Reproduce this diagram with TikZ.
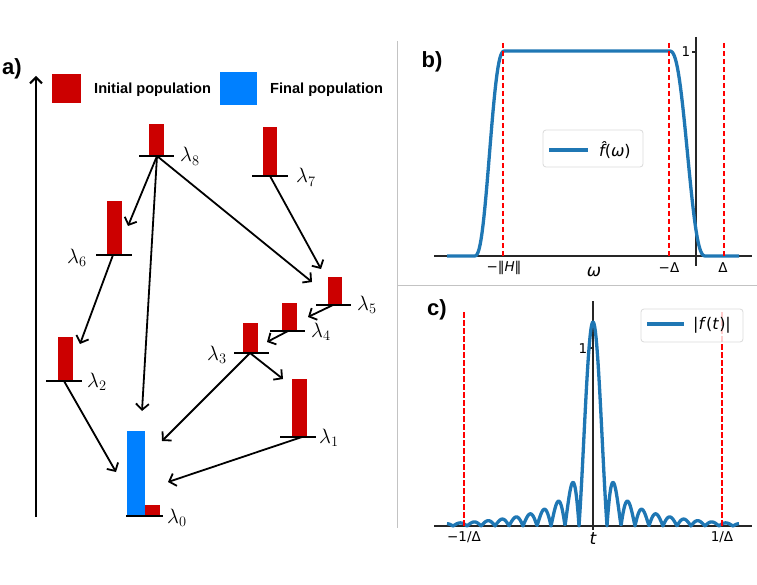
\documentclass[tikz,border=0pt]{standalone}
\usepackage{fontspec}
\newfontfamily\dvs{DejaVu Sans}
\newfontfamily\hel{Liberation Sans}
\usetikzlibrary{arrows.meta}
\definecolor{redbar}{RGB}{204,0,0}
\definecolor{bluebar}{RGB}{0,128,255}
\definecolor{mplblue}{RGB}{31,119,180}
\definecolor{panelgrey}{RGB}{195,195,195}
\definecolor{legendgrey}{RGB}{218,218,218}
\begin{document}
\begin{tikzpicture}[x=1pt,y=-1pt,
  levelline/.style={line width=2.2pt, black},
  redb/.style={fill=redbar, draw=none},
  blueb/.style={fill=bluebar, draw=none},
  trans/.style={line width=1.8pt, -{Straight Barb[length=6pt,width=13pt,line width=1.8pt]}},
  lab/.style={font=\fontsize{21.5}{25}\selectfont, inner sep=0pt, anchor=base west},
  panellabel/.style={font=\hel\bfseries\fontsize{22}{26}\selectfont, inner sep=0pt},
  legtext/.style={font=\hel\bfseries\fontsize{14.6}{17}\selectfont, inner sep=0pt, anchor=west},
  axisline/.style={line width=1.1pt, black!85},
  curve/.style={mplblue, line width=3.3pt, line join=round},
  vline/.style={red, line width=1.7pt, dash pattern=on 5.5pt off 2.5pt},
  ticklab/.style={font=\dvs\fontsize{13.5}{15}\selectfont, inner sep=0pt},
  axlab/.style={font=\dvs\itshape\fontsize{17}{19}\selectfont, inner sep=0pt},
  legendbox/.style={draw=legendgrey, fill=white, fill opacity=0.8, rounded corners=3pt, line width=0.8pt},
  mpltext/.style={font=\dvs\fontsize{16}{19}\selectfont, inner sep=0pt, anchor=west},
  declare function={
    clampu(\u)=min(max(\u,0),1);
    smst(\u)=\u*\u*\u*(\u*(6*\u-15)+10);
    fbw(\x)=smst(clampu((\x-474)/31))*smst(clampu((706-\x)/37));
    sincu(\u)=sin(180*\u)/(pi*\u);
    fct(\x)=1.146*abs(sincu((\x-593)/14))*exp(-((\x-593)/150)^2);
  }]
\useasboundingbox (0,0) rectangle (757,585);

% ---------------- panel a ----------------
\node[panellabel] (pa) at (12,69) {a)};
\coordinate (axbot) at (36,517);
\coordinate (axtop) at (36,76);
\draw[line width=2.2pt, -{Straight Barb[length=6pt,width=12pt,line width=2pt]}] (axbot) -- (axtop);

% legend
\fill[redbar] (52,74) rectangle (81,103);
\node[legtext] (lginit) at (94,90) {Initial population};
\fill[bluebar] (220,72) rectangle (257,105);
\node[legtext] (lgfinal) at (270,90) {Final population};

% bars
\fill[redb] (149,124) rectangle (164,156);
\fill[redb] (263,127) rectangle (277,176);
\fill[redb] (107,201) rectangle (122,255);
\fill[redb] (328,277) rectangle (342,305);
\fill[redb] (282,303) rectangle (297,331);
\fill[redb] (243,323) rectangle (258,353);
\fill[redb] (58,337) rectangle (73,381);
\fill[redb] (292,379) rectangle (307,437);
\fill[blueb] (127,431) rectangle (145,516);
\fill[redb] (145,505) rectangle (160,516);

% level lines
\draw[levelline] (139,156) -- (174,156);
\draw[levelline] (252,176) -- (288,176);
\draw[levelline] (96,255) -- (132,255);
\draw[levelline] (316,305) -- (351,305);
\draw[levelline] (270,331) -- (305,331);
\draw[levelline] (234,353) -- (269,353);
\draw[levelline] (46,381) -- (82,381);
\draw[levelline] (280,437) -- (316,437);
\draw[levelline] (126,516) -- (163,516);

% labels
\node[lab] (l8) at (180,162) {$\lambda_8$};
\node[lab] (l7) at (296,183) {$\lambda_7$};
\node[lab] (l6) at (67,263) {$\lambda_6$};
\node[lab] (l5) at (357,310) {$\lambda_5$};
\node[lab] (l4) at (311,337) {$\lambda_4$};
\node[lab] (l3) at (207,360) {$\lambda_3$};
\node[lab] (l2) at (87,387) {$\lambda_2$};
\node[lab] (l1) at (319,443) {$\lambda_1$};
\node[lab] (l0) at (167,523) {$\lambda_0$};

% level anchor points
\coordinate (c8) at (157,156);
\coordinate (c7) at (270,176);
\coordinate (c6) at (113,255);
\coordinate (c5) at (333,305);
\coordinate (c4) at (288,331);
\coordinate (c3) at (250,353);
\coordinate (c2) at (64,381);
\coordinate (c1) at (302,437);
% arrow tips
\coordinate (t86) at (128,226);
\coordinate (t80) at (142,411);
\coordinate (t85) at (312,282);
\coordinate (t75) at (321,269);
\coordinate (t62) at (80,344);
\coordinate (t54) at (308,317);
\coordinate (t43) at (267,342);
\coordinate (t30) at (162,441);
\coordinate (t31) at (283,379);
\coordinate (t20) at (116,472);
\coordinate (t10) at (168,482);

\draw[trans] (c8) -- (t86);
\draw[trans] (c8) -- (t80);
\draw[trans] (c8) -- (t85);
\draw[trans] (c7) -- (t75);
\draw[trans] (c6) -- (t62);
\draw[trans] (c5) -- (t54);
\draw[trans] (c4) -- (t43);
\draw[trans] (c3) -- (t30);
\draw[trans] (c3) -- (t31);
\draw[trans] (c2) -- (t20);
\draw[trans] (c1) -- (t10);

% panel dividers
\draw[panelgrey, line width=1pt] (397,41) -- (397,528);
\draw[panelgrey, line width=1pt] (397,285) -- (757,285);

% ---------------- panel b ----------------
\node[panellabel] (pb) at (432,62) {b)};
\draw[axisline] (434,256) -- (752,256);
\draw[axisline] (696,37) -- (696,266);
\draw[axisline] (692,52) -- (696,52);
\node[ticklab] (b1) at (686,52) {1};
\draw[curve] plot[domain=447:739, samples=300] (\x,{256-205*fbw(\x)});
\draw[vline] (503,43) -- (503,256);
\draw[vline] (669,43) -- (669,256);
\draw[vline] (724,43) -- (724,256);
\node[ticklab] (bh) at (504,268) {−‖\textit{H}‖};
\node[ticklab] (bmd) at (669,268) {−Δ};
\node[ticklab] (bd) at (723,268) {Δ};
\node[axlab] (bw) at (594,272) {ω};
\draw[legendbox] (543,130) rectangle (643,167);
\draw[mplblue, line width=3.3pt] (549,150) -- (588,150);
\node[mpltext] (bleg) at (599,150) {\textit{\^{f}}(\textit{ω})};

% ---------------- panel c ----------------
\node[panellabel] (pc) at (437,310) {c)};
\draw[axisline] (434,526) -- (752,526);
\draw[axisline] (593,301) -- (593,530);
\draw[axisline] (589,348) -- (593,348);
\node[ticklab] (c1l) at (583,349) {1};
\draw[curve] plot[domain=447:739, samples=700] (\x,{526-178*fct(\x)});
\draw[vline] (464,312) -- (464,526);
\draw[vline] (722,312) -- (722,526);
\node[ticklab] (cm) at (464,537) {−1/Δ};
\node[ticklab] (cp) at (722,537) {1/Δ};
\node[axlab] (ct) at (593,539) {t};
\draw[legendbox] (641,309) rectangle (743,342);
\draw[mplblue, line width=3.3pt] (647,324) -- (684,324);
\node[mpltext] (cleg) at (693,325) {|\textit{f}(\textit{t})|};
\end{tikzpicture}
\end{document}
